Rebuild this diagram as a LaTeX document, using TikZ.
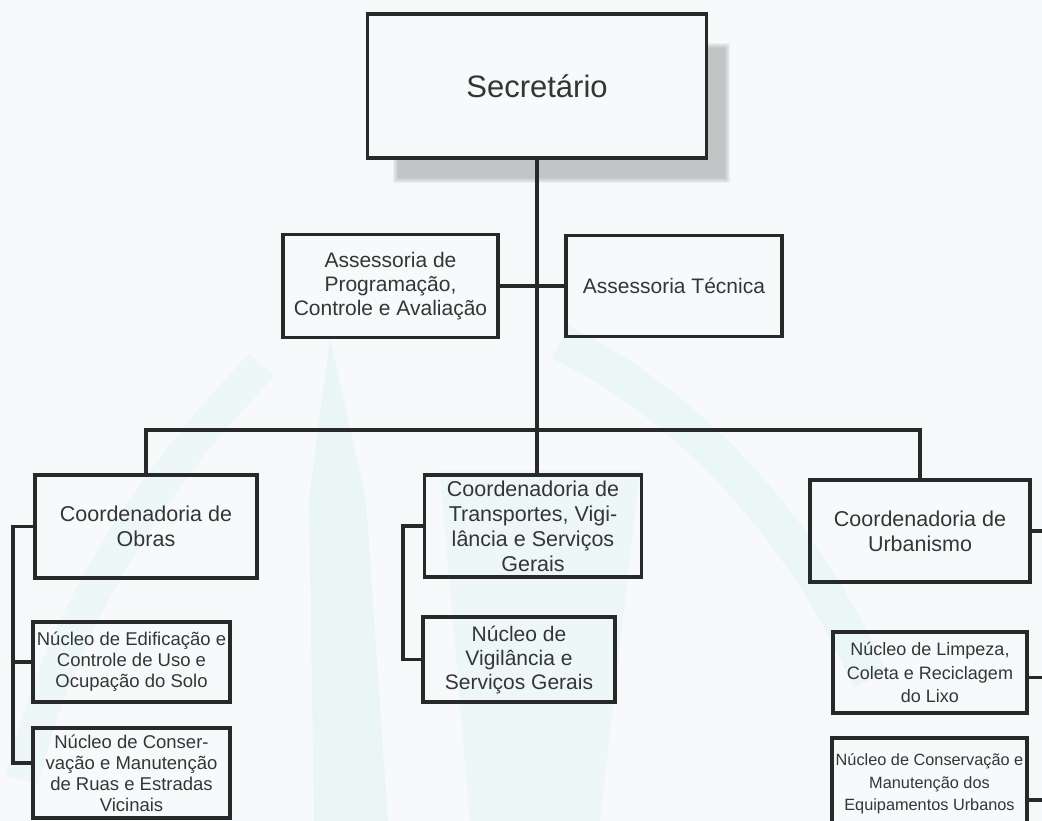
\documentclass[tikz,border=0pt]{standalone}
\usepackage{fontspec}
\setmainfont{Liberation Sans}
\definecolor{paper}{RGB}{248,249,251}
\definecolor{ink}{RGB}{40,42,42}
\definecolor{txt}{RGB}{52,54,54}
\definecolor{wmark}{RGB}{200,240,234}
\begin{document}
\begin{tikzpicture}[x=1pt,y=-1pt,
  box/.style={draw=ink, line width=3.3pt, inner sep=0pt, align=center, text=txt},
  link/.style={draw=ink, line width=3.3pt},
  fbig/.style={font=\fontsize{31}{36}\selectfont},
  fmid/.style={font=\fontsize{21}{24}\selectfont},
  fcoord/.style={font=\fontsize{21.5}{25}\selectfont},
  fsmall/.style={font=\fontsize{18.5}{21}\selectfont},
  ftiny/.style={font=\fontsize{16.3}{22.5}\selectfont},
  wm/.style={fill=wmark, draw=none}]
\useasboundingbox (0,0) rectangle (1042,821);
\clip (0,0) rectangle (1042,821);
\fill[paper] (0,0) rectangle (1042,821);

% faint logo in the background
\fill[wm, opacity=0.28] (330,338) -- (309,500) -- (314,821) -- (388,821) -- (366,500) -- cycle;
\draw[wmark, opacity=0.2, line width=34pt] (262,365) .. controls (150,480) and (60,620) .. (22,780);
\draw[wmark, opacity=0.25, line width=36pt] (560,342) .. controls (680,400) and (800,520) .. (870,680);
\fill[wm, opacity=0.22] (440,470) -- (640,470) -- (600,821) -- (470,821) -- cycle;

% shadow of the top box
\foreach \i in {0,...,5}
  \fill[black!50, opacity=0.085] (393+\i,43+\i) rectangle (730-\i,183-\i);

% boxes
\node[box, fbig, fill=paper, minimum width=339pt, minimum height=144pt] (sec) at (537,86) {Secretário};
\node[box, fmid, minimum width=215pt, minimum height=103pt] (apca) at (390.5,286)
  {Assessoria de\\Programação,\\Controle e Avaliação};
\node[box, fmid, minimum width=216pt, minimum height=101pt] (atec) at (674,286) {Assessoria Técnica};

\node[box, fcoord, minimum width=222pt, minimum height=103pt] (cobr) at (146,526.5)
  {Coordenadoria de\\Obras};
\node[box, fcoord, minimum width=217pt, minimum height=102pt] (ctra) at (533,526)
  {Coordenadoria de\\Transportes, Vigi-\\lância e Serviços\\Gerais};
\node[box, fcoord, minimum width=220pt, minimum height=102pt] (curb) at (920,531)
  {Coordenadoria de\\Urbanismo};

\node[box, fsmall, minimum width=197pt, minimum height=80pt] (n1) at (131.5,662)
  {Núcleo de Edificação e\\Controle de Uso e\\Ocupação do Solo};
\node[box, fsmall, minimum width=197pt, minimum height=90pt] (n2) at (131.5,773)
  {Núcleo de Conser-\\vação e Manutenção\\de Ruas e Estradas\\Vicinais};
\node[box, fmid, minimum width=192pt, minimum height=85pt] (nvig) at (519,659.5)
  {Núcleo de\\Vigilância e\\Serviços Gerais};
\node[box, font=\fontsize{18}{23.5}\selectfont, minimum width=194pt, minimum height=81pt] (nlim) at (930,672.5)
  {Núcleo de Limpeza,\\Coleta e Reciclagem\\do Lixo};
\node[box, ftiny, minimum width=195pt, minimum height=92pt] (ncon) at (929.5,784)
  {Núcleo de Conservação e\\Manutenção dos\\Equipamentos Urbanos};

% connectors
\coordinate (busy) at (0,430);
\coordinate (lobr) at (13,0);
\coordinate (ltra) at (403,0);
\coordinate (rurb) at (1050,0);

\draw[link] (sec.south) -- (sec.south |- ctra.north);
\draw[link] (apca.east) -- (atec.west);
\draw[link] (cobr.north) -- (cobr.north |- busy) -- (curb.north |- busy) -- (curb.north);

\draw[link] (cobr.west) -- (cobr.west -| lobr) -- ([yshift=10pt]n2.west -| lobr) -- ([yshift=10pt]n2.west);
\draw[link] (n1.west -| lobr) -- (n1.west);

\draw[link] (ctra.west) -- (ctra.west -| ltra) -- (nvig.west -| ltra) -- (nvig.west);

\draw[link] (curb.east) -- (curb.east -| rurb) -- ([yshift=-16pt]ncon.east -| rurb) -- ([yshift=-16pt]ncon.east);
\draw[link] ([yshift=-5pt]nlim.east -| rurb) -- ([yshift=-5pt]nlim.east);
\end{tikzpicture}
\end{document}
